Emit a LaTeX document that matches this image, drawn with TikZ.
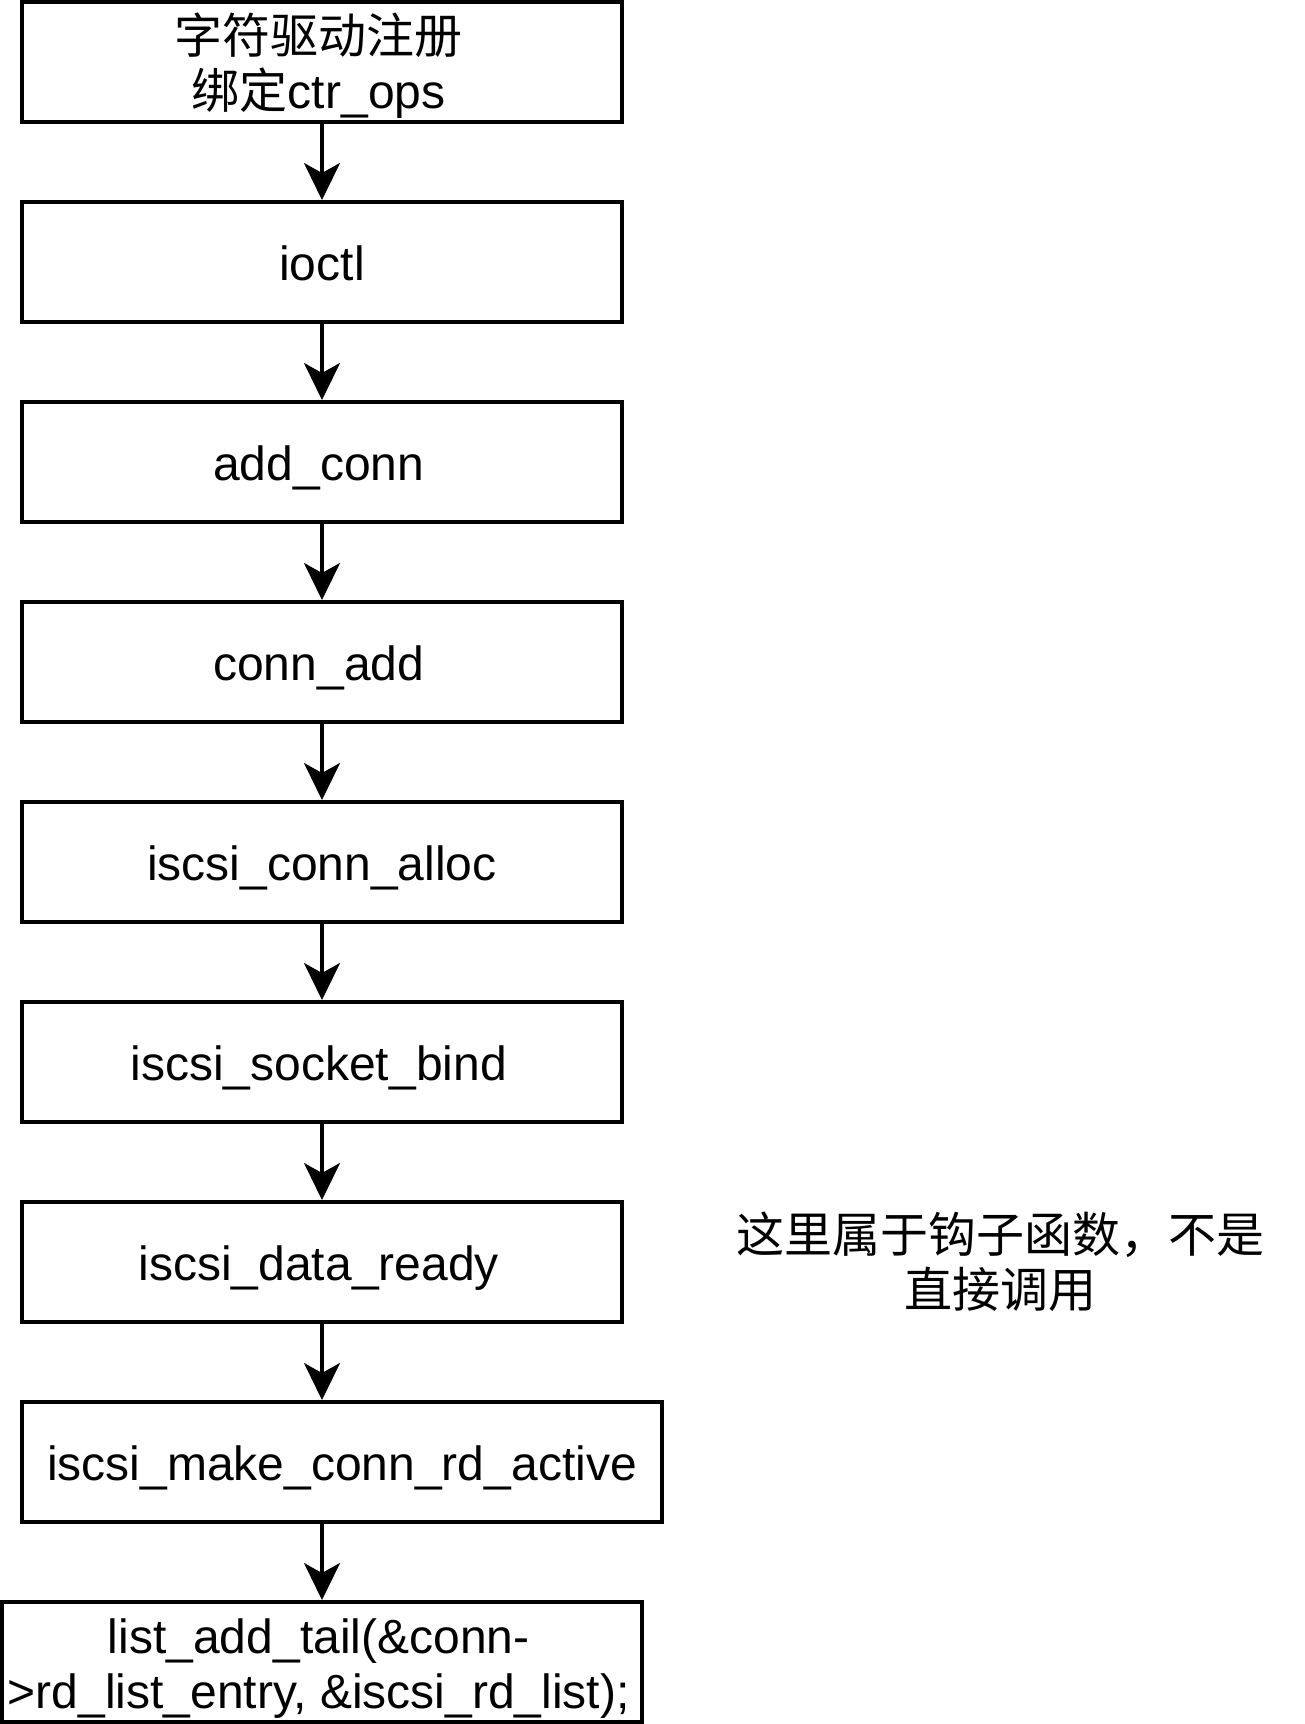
\documentclass[tikz,border=0pt]{standalone}
\usepackage{fontspec}
\setmainfont{Liberation Sans}
\newfontfamily\cjk{Noto Sans CJK SC}
\usetikzlibrary{arrows.meta}
\newcommand{\lnstrut}{\rule[-11pt]{0pt}{59pt}}
\newcommand{\topstrut}{\rule{0pt}{48pt}}
\newcommand{\botstrut}{\rule[-11pt]{0pt}{11pt}}
\newcommand{\sh}{\hspace*{6.6pt}}
\begin{document}
\begin{tikzpicture}[x=1pt,y=-1pt,
  box/.style={draw=black, line width=4pt, minimum width=600pt, minimum height=120pt, inner sep=0pt, align=center,
    font=\fontsize{48}{55}\selectfont},
  wbox/.style={box, minimum width=640pt},
  arr/.style={line width=3.3pt, -{Stealth[length=37pt,width=36pt,inset=10pt]}},
  note/.style={align=center, font=\fontsize{48}{55}\selectfont\cjk}]
\useasboundingbox (0,0) rectangle (1304,1724);
\node[box] (b1) at (322,62) {\topstrut{\cjk 字符驱动注册}\sh\\\botstrut{\cjk 绑定}ctr\_ops\sh};
\node[box] (b2) at (322,262) {\lnstrut ioctl};
\node[box] (b3) at (322,462) {\lnstrut add\_conn\sh};
\node[box] (b4) at (322,662) {\lnstrut conn\_add\sh};
\node[box] (b5) at (322,862) {\lnstrut iscsi\_conn\_alloc};
\node[box] (b6) at (322,1062) {\lnstrut iscsi\_socket\_bind\sh};
\node[box] (b7) at (322,1262) {\lnstrut iscsi\_data\_ready\sh};
\node[wbox] (b8) at (342,1462) {\lnstrut iscsi\_make\_conn\_rd\_active};
\node[wbox] (b9) at (322,1662) {\topstrut list\_add\_tail(\&conn-\sh\\\botstrut >rd\_list\_entry, \&iscsi\_rd\_list);\sh};
\node[note] (n1) at (1000,1262) {这里属于钩子函数，不是\\直接调用};
\draw[arr] (b1.south) -- (b2.north);
\draw[arr] (b2.south) -- (b3.north);
\draw[arr] (b3.south) -- (b4.north);
\draw[arr] (b4.south) -- (b5.north);
\draw[arr] (b5.south) -- (b6.north);
\draw[arr] (b6.south) -- (b7.north);
\draw[arr] (b7.south) -- (b7.south |- b8.north);
\draw[arr] (b9.north |- b8.south) -- (b9.north);
\end{tikzpicture}
\end{document}
